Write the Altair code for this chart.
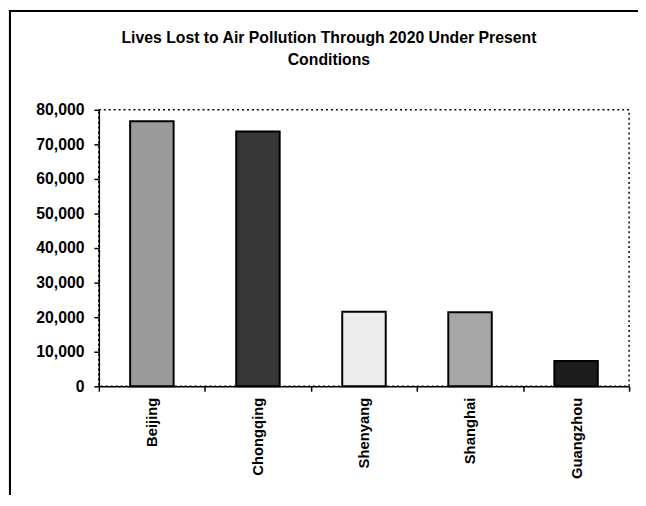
import altair as alt
import pandas as pd

cities = ["Beijing", "Chongqing", "Shenyang", "Shanghai", "Guangzhou"]
lives_lost = [76700, 73700, 21600, 21400, 7300]
y_ticks = [0, 10000, 20000, 30000, 40000, 50000, 60000, 70000, 80000]
title_lines = ["Lives Lost to Air Pollution Through 2020 Under Present", "Conditions"]

bar_fills = ["#9a9a9a", "#363636", "#ececec", "#a6a6a6", "#1c1c1c"]

FONT = "Liberation Sans"

df = pd.DataFrame({"city": cities, "lives": lives_lost})

bars = alt.Chart(df).mark_bar(
    width=alt.RelativeBandSize(0.41), stroke="black", strokeWidth=2
).encode(
    x=alt.X("city:N", sort=cities, title=None,
            scale=alt.Scale(paddingInner=0, paddingOuter=0),
            axis=alt.Axis(labelAngle=-90, labelFont=FONT, labelFontSize=15,
                          labelFontWeight="bold", labelColor="black",
                          labelPadding=6, tickBand="extent", tickSize=5,
                          tickWidth=1.5, tickColor="black", domainColor="black",
                          domainWidth=1.5, labelBaseline="middle")),
    y=alt.Y("lives:Q", title=None,
            scale=alt.Scale(domain=[0, 80000], nice=False),
            axis=alt.Axis(values=y_ticks, format=",.0f", grid=False,
                          labelFont=FONT, labelFontSize=16, labelFontWeight="bold",
                          labelColor="black", labelPadding=10, tickSize=5,
                          tickWidth=1.5, tickColor="black", domainColor="black",
                          domainWidth=1.5)),
    color=alt.Color("city:N", scale=alt.Scale(domain=cities, range=bar_fills),
                    legend=None),
)

frame_top = alt.Chart(df).mark_rule(color="black", strokeWidth=2).encode(
    x=alt.value(-91), x2=alt.value(546), y=alt.value(-100)
)
frame_left = alt.Chart(df).mark_rule(color="black", strokeWidth=2).encode(
    x=alt.value(-90), y=alt.value(-101), y2=alt.value(390)
)

chart = alt.layer(bars, frame_top, frame_left).properties(
    width=537,
    height=280,
    autosize=alt.AutoSizeParams(type="none"),
    padding={"left": 92, "top": 100, "right": 9, "bottom": 110},
    title=alt.Title(text=title_lines, font=FONT, fontSize=16, fontWeight="bold",
                    color="black", anchor="middle", frame="group", dx=-35.5,
                    baseline="bottom", lineHeight=23, offset=-76),
).configure_view(
    stroke="black", strokeDash=[2, 3], strokeWidth=1.5
)

chart.save("out.html", embed_options={"renderer": "svg", "actions": False})
